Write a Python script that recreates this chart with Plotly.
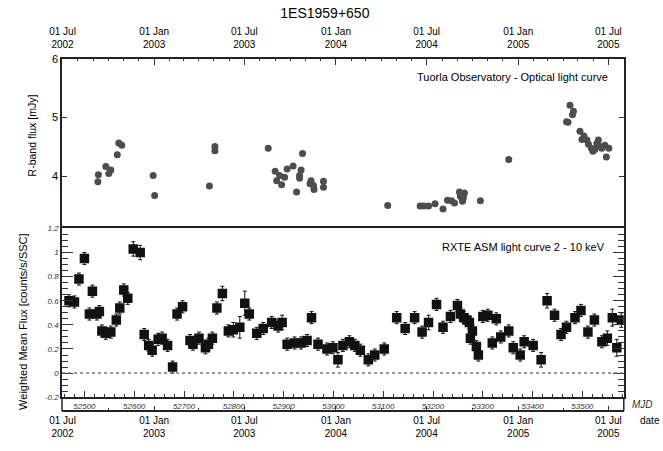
import datetime as dt
import plotly.graph_objects as go

# ---------------- data ----------------
opt_mjd = [52527, 52528, 52543, 52549, 52553, 52566, 52569, 52575, 52638, 52641,
           52751, 52762, 52762, 52869, 52883, 52886, 52892, 52896, 52902, 52907,
           52919, 52926, 52932, 52932, 52935, 52938, 52955, 52953, 52960, 52961,
           52980, 52980,
           53109, 53174, 53181, 53191, 53204, 53220, 53229, 53237, 53243, 53253,
           53255, 53259, 53263, 53261, 53295, 53352,
           53468, 53471, 53475, 53480, 53482, 53495, 53499, 53503, 53509, 53512,
           53518, 53521, 53525, 53529, 53532, 53535, 53539, 53548, 53553, 53545]
opt_flux = [3.91, 4.03, 4.17, 4.05, 4.11, 4.37, 4.57, 4.53, 4.02, 3.68,
            3.84, 4.51, 4.44, 4.48, 4.09, 3.93, 4.02, 3.86, 3.99, 4.13,
            4.18, 3.74, 4.02, 3.97, 4.11, 4.39, 3.93, 3.88, 3.85, 3.78,
            3.92, 3.82,
            3.51, 3.50, 3.50, 3.50, 3.54, 3.45, 3.60, 3.59, 3.55, 3.74,
            3.66, 3.58, 3.72, 3.64, 3.59, 4.29,
            4.93, 4.92, 5.21, 5.05, 5.11, 4.77, 4.63, 4.69, 4.62, 4.55,
            4.48, 4.43, 4.46, 4.56, 4.62, 4.51, 4.48, 4.33, 4.48, 4.53]

asm_mjd = [52469, 52480, 52489, 52500, 52510, 52516, 52525, 52530, 52535, 52543,
           52553, 52564, 52571, 52579, 52587, 52598, 52612, 52620, 52629, 52636,
           52648, 52656, 52667, 52677, 52686, 52697, 52712, 52718, 52730, 52743,
           52749, 52757, 52766, 52777, 52789, 52799, 52812, 52822, 52831, 52846,
           52859, 52876, 52889, 52897, 52907, 52922, 52935, 52947, 52956, 52969,
           52987, 52999, 53009, 53019, 53032, 53043, 53054, 53070, 53083, 53102,
           53127, 53144, 53163, 53178, 53191, 53207, 53220, 53235, 53249, 53255,
           53262, 53268, 53273, 53279, 53275, 53287, 53291, 53300, 53310, 53327,
           53319, 53336, 53352, 53361, 53375, 53383, 53401, 53417, 53429, 53444,
           53457, 53468, 53485, 53497, 53511, 53524, 53539, 53550, 53560, 53569,
           53578]
asm_flux = [0.60, 0.59, 0.78, 0.95, 0.49, 0.68, 0.49, 0.51, 0.35, 0.33,
            0.34, 0.44, 0.54, 0.69, 0.62, 1.03, 1.00, 0.32, 0.23, 0.19,
            0.28, 0.29, 0.23, 0.05, 0.49, 0.55, 0.27, 0.24, 0.29, 0.21,
            0.24, 0.29, 0.54, 0.66, 0.35, 0.36, 0.38, 0.58, 0.49, 0.33,
            0.37, 0.42, 0.39, 0.42, 0.24, 0.25, 0.25, 0.27, 0.46, 0.24,
            0.20, 0.21, 0.11, 0.23, 0.26, 0.23, 0.19, 0.11, 0.15, 0.20,
            0.46, 0.37, 0.46, 0.34, 0.42, 0.57, 0.38, 0.47, 0.56, 0.49,
            0.46, 0.44, 0.42, 0.35, 0.29, 0.22, 0.15, 0.47, 0.48, 0.45,
            0.25, 0.30, 0.35, 0.21, 0.15, 0.26, 0.23, 0.11, 0.60, 0.48,
            0.32, 0.38, 0.46, 0.52, 0.34, 0.44, 0.26, 0.29, 0.46, 0.21,
            0.44]
asm_err = [0.05, 0.05, 0.05, 0.05, 0.05, 0.05, 0.05, 0.05, 0.05, 0.05,
           0.05, 0.05, 0.05, 0.05, 0.05, 0.06, 0.06, 0.05, 0.05, 0.05,
           0.05, 0.05, 0.05, 0.05, 0.05, 0.05, 0.05, 0.05, 0.05, 0.05,
           0.05, 0.05, 0.05, 0.06, 0.05, 0.06, 0.09, 0.10, 0.05, 0.05,
           0.05, 0.05, 0.05, 0.06, 0.05, 0.05, 0.05, 0.05, 0.05, 0.05,
           0.05, 0.05, 0.06, 0.05, 0.05, 0.05, 0.05, 0.05, 0.05, 0.05,
           0.05, 0.05, 0.05, 0.05, 0.06, 0.05, 0.05, 0.05, 0.05, 0.05,
           0.05, 0.05, 0.05, 0.05, 0.05, 0.05, 0.05, 0.05, 0.05, 0.05,
           0.05, 0.05, 0.05, 0.05, 0.05, 0.05, 0.05, 0.06, 0.06, 0.05,
           0.05, 0.05, 0.05, 0.05, 0.05, 0.05, 0.05, 0.06, 0.07, 0.07,
           0.06]

date_ticks = [dt.date(2002, 7, 1), dt.date(2003, 1, 1), dt.date(2003, 7, 1),
              dt.date(2004, 1, 1), dt.date(2004, 7, 1), dt.date(2005, 1, 1),
              dt.date(2005, 7, 1)]
date_text = ["01 Jul<br>2002", "01 Jan<br>2003", "01 Jul<br>2003", "01 Jan<br>2004",
             "01 Jul<br>2004", "01 Jan<br>2005", "01 Jul<br>2005"]
mjd_ticks = [52500, 52600, 52700, 52800, 52900, 53000, 53100, 53200, 53300, 53400, 53500]
mjd_text = [str(v) for v in mjd_ticks]
asm_yticks = [-0.2, 0, 0.2, 0.4, 0.6, 0.8, 1.0, 1.2]
asm_ytext = ["-0.2", "0", "0.2", "0.4", "0.6", "0.8", "1", "1.2"]
opt_yticks = [4, 5, 6]

# ---------------- helpers ----------------
MJD0 = dt.date(1858, 11, 17)
def to_mjd(d):
    return (d - MJD0).days

date_mjd = [to_mjd(d) for d in date_ticks]
months = []
y, m = 2002, 7
while (y, m) <= (2005, 8):
    months.append(to_mjd(dt.date(y, m, 1)))
    m += 1
    if m > 12:
        m, y = 1, y + 1
quarters = []
y, m = 2002, 7
while (y, m) <= (2005, 8):
    quarters.append(to_mjd(dt.date(y, m, 1)))
    m += 3
    if m > 12:
        m, y = m - 12, y + 1

W, H = 663, 451
L, R = 50, 623
TOP, MID, BOT1, BOT2 = 54, 228, 401, 415
px = lambda x: x / W
py = lambda yy: 1 - yy / H
XR = [52455, 53583]
FONT = "Liberation Sans, Arial, Helvetica, sans-serif"

fig = go.Figure()
fig.add_trace(go.Scatter(x=opt_mjd, y=opt_flux, mode="markers", xaxis="x2", yaxis="y",
                         marker=dict(symbol="circle", size=7, color="#4d4d4d"),
                         showlegend=False, hoverinfo="skip"))
fig.add_trace(go.Scatter(x=asm_mjd, y=asm_flux, mode="markers", xaxis="x", yaxis="y2",
                         marker=dict(symbol="square", size=9.5, color="#111111"),
                         error_y=dict(type="data", array=asm_err, color="#111111",
                                      thickness=1, width=2),
                         showlegend=False, hoverinfo="skip"))
# invisible trace to carry the bottom date axis
fig.add_trace(go.Scatter(x=[XR[0]], y=[0], mode="markers", xaxis="x3", yaxis="y2",
                         marker=dict(opacity=0), showlegend=False, hoverinfo="skip"))

fig.update_layout(
    width=W, height=H, margin=dict(l=0, r=0, t=0, b=0),
    paper_bgcolor="white", plot_bgcolor="white",
    font=dict(family=FONT, color="black", size=10),
    title=dict(text="1ES1959+650", x=0.49, xanchor="center", y=1 - 13 / H,
               yanchor="middle", font=dict(size=14, family=FONT)),
    xaxis=dict(domain=[px(L), px(R)], anchor="y2", range=XR, showgrid=False, zeroline=False,
               tickmode="array", tickvals=mjd_ticks, ticktext=mjd_text,
               ticks="inside", ticklen=6, tickcolor="#333", tickwidth=1,
               minor=dict(dtick=20, tick0=52500, ticks="inside", ticklen=3, tickcolor="#333"),
               showline=True, linecolor="#222", linewidth=1.5, mirror=True,
               ticklabelstandoff=0,
               tickfont=dict(size=8, style="italic", color="#333")),
    xaxis2=dict(domain=[px(L), px(R)], anchor="y", side="top", range=XR, showgrid=False,
                zeroline=False, tickmode="array", tickvals=date_mjd, ticktext=date_text,
                ticks="inside", ticklen=7, tickcolor="#333",
                minor=dict(tickvals=months, ticks="inside", ticklen=3, tickcolor="#333"),
                showline=True, linecolor="#222", linewidth=1.5,
                ticklabelstandoff=5,
                tickfont=dict(size=10)),
    xaxis3=dict(range=XR, overlaying="x", anchor="free", position=py(BOT2), side="bottom",
                showgrid=False, zeroline=False, tickmode="array", tickvals=date_mjd,
                ticktext=date_text, ticks="inside", ticklen=4, tickcolor="#333",
                minor=dict(tickvals=quarters, ticks="inside", ticklen=2, tickcolor="#333"),
                showline=True, linecolor="#222", linewidth=1.5,
                tickfont=dict(size=10)),
    yaxis=dict(domain=[py(MID), py(TOP)], anchor="x2", range=[3.12, 6], showgrid=False,
               zeroline=False, tickmode="array", tickvals=opt_yticks, ticks="inside",
               ticklen=5, tickcolor="#333", showline=True, linecolor="#222",
               linewidth=1.5, mirror="ticks", tickfont=dict(size=11)),
    yaxis2=dict(domain=[py(BOT1), py(MID)], anchor="x", range=[-0.2, 1.2], showgrid=False,
                zeroline=False, tickmode="array", tickvals=asm_yticks, ticktext=asm_ytext,
                ticks="inside", ticklen=11, tickcolor="#333",
                minor=dict(dtick=0.05, tick0=0, ticks="inside", ticklen=6, tickcolor="#333"),
                showline=True, linecolor="#222", linewidth=1.5, mirror="ticks",
                tickfont=dict(size=8, style="italic", color="#333")),
)

shapes = [
    dict(type="line", xref="paper", yref="y2", x0=px(L), x1=px(R), y0=0, y1=0,
         line=dict(color="#777", width=1.5, dash="dot")),
    dict(type="line", xref="paper", yref="paper", x0=px(L), x1=px(L), y0=py(BOT2), y1=py(BOT1),
         line=dict(color="#222", width=1.5)),
    dict(type="line", xref="paper", yref="paper", x0=px(R), x1=px(R), y0=py(BOT2), y1=py(BOT1),
         line=dict(color="#222", width=1.5)),
]
fig.update_layout(shapes=shapes)

ann = [
    dict(text="Tuorla Observatory - Optical light curve", x=px(609), y=py(73),
         xanchor="right", yanchor="middle", font=dict(size=11)),
    dict(text="RXTE ASM light curve 2 - 10 keV", x=px(606), y=py(247),
         xanchor="right", yanchor="middle", font=dict(size=11)),
    dict(text="R-band flux [mJy]", x=px(19), y=py(133), textangle=-90,
         xanchor="center", yanchor="middle", font=dict(size=10.5)),
    dict(text="Weighted Mean Flux [counts/s/SSC]", x=px(10), y=py(323), textangle=-90,
         xanchor="center", yanchor="middle", font=dict(size=11)),
    dict(text="MJD", x=px(642), y=py(408), xanchor="center", yanchor="middle",
         font=dict(size=10, style="italic", color="#333")),
    dict(text="date", x=px(650), y=py(425), xanchor="center", yanchor="middle",
         font=dict(size=10)),
]
for a in ann:
    a.update(xref="paper", yref="paper", showarrow=False)
fig.update_layout(annotations=ann)

fig.write_html("out.html")
